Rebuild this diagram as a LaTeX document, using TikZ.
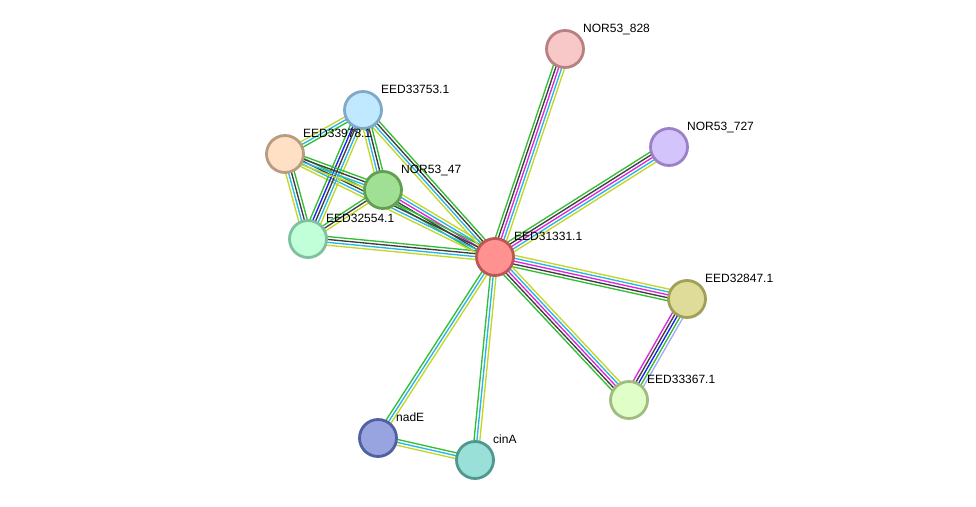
\documentclass[tikz,border=0pt]{standalone}
\usepackage{fontspec}
\setmainfont{Liberation Sans}
\usepackage{xcolor}
\usepackage{tikz}
\usetikzlibrary{calc,backgrounds}

\definecolor{tmine}{RGB}{196,214,40}
\definecolor{dbase}{RGB}{40,182,228}
\definecolor{exper}{RGB}{220,40,220}
\definecolor{coexp}{RGB}{62,62,62}
\definecolor{nbhd}{RGB}{52,190,52}
\definecolor{cooc}{RGB}{30,30,240}
\definecolor{homol}{RGB}{168,168,250}

\newcommand{\ppiedge}[3]{%
  \foreach \c [count=\i] in {#3} {\xdef\nlines{\i}}%
  \foreach \c [count=\i] in {#3} {%
    \pgfmathsetmacro{\off}{(\i-(\nlines+1)/2)*2.9}%
    \draw[ppi,\c] ($(#1.center)!\off pt!90:(#2.center)$) -- ($(#2.center)!\off pt!-90:(#1.center)$);
  }%
}

\begin{document}
\begin{tikzpicture}[x=1pt,y=-1pt,
    prot/.style={circle,minimum size=37pt,inner sep=0pt,line width=2.8pt},
    lbl/.style={anchor=base west,inner sep=0pt,font=\fontsize{12}{14}\selectfont},
    ppi/.style={line width=1.35pt}]
    \useasboundingbox (0,0) rectangle (976,506);
    \node[prot,fill={rgb,255:red,255;green,145;blue,145},draw={rgb,255:red,190;green,85;blue,85}] (c31331) at (495,257) {};
    \node[prot,fill={rgb,255:red,248;green,200;blue,200},draw={rgb,255:red,184;green,128;blue,128}] (n828) at (565,49) {};
    \node[prot,fill={rgb,255:red,212;green,196;blue,252},draw={rgb,255:red,156;green,128;blue,200}] (n727) at (669,147) {};
    \node[prot,fill={rgb,255:red,222;green,220;blue,152},draw={rgb,255:red,160;green,160;blue,88}] (e32847) at (687,299) {};
    \node[prot,fill={rgb,255:red,224;green,255;blue,200},draw={rgb,255:red,160;green,188;blue,128}] (e33367) at (629,400) {};
    \node[prot,fill={rgb,255:red,152;green,224;blue,216},draw={rgb,255:red,80;green,152;blue,143}] (cina) at (475,460) {};
    \node[prot,fill={rgb,255:red,152;green,164;blue,224},draw={rgb,255:red,80;green,96;blue,160}] (nade) at (378,438) {};
    \node[prot,fill={rgb,255:red,192;green,255;blue,216},draw={rgb,255:red,128;green,192;blue,160}] (e32554) at (308,239) {};
    \node[prot,fill={rgb,255:red,255;green,224;blue,196},draw={rgb,255:red,184;green,156;blue,128}] (e33978) at (285,154) {};
    \node[prot,fill={rgb,255:red,192;green,232;blue,255},draw={rgb,255:red,128;green,168;blue,200}] (e33753) at (363,110) {};
    \node[prot,fill={rgb,255:red,160;green,224;blue,148},draw={rgb,255:red,96;green,160;blue,80}] (n47) at (383,190) {};

    \node[lbl] (t31331) at ([shift={(19,-17)}]c31331.center) {EED31331.1};
    \node[lbl] (t828) at ([shift={(18,-17)}]n828.center) {NOR53\_828};
    \node[lbl] (t727) at ([shift={(18,-17)}]n727.center) {NOR53\_727};
    \node[lbl] (t32847) at ([shift={(18,-17)}]e32847.center) {EED32847.1};
    \node[lbl] (t33367) at ([shift={(18,-17)}]e33367.center) {EED33367.1};
    \node[lbl] (tcina) at ([shift={(18,-17)}]cina.center) {cinA};
    \node[lbl] (tnade) at ([shift={(18,-17)}]nade.center) {nadE};
    \node[lbl] (t32554) at ([shift={(18,-17)}]e32554.center) {EED32554.1};
    \node[lbl] (t33978) at ([shift={(18,-17)}]e33978.center) {EED33978.1};
    \node[lbl] (t33753) at ([shift={(18,-17)}]e33753.center) {EED33753.1};
    \node[lbl] (t47) at ([shift={(18,-17)}]n47.center) {NOR53\_47};

    \begin{pgfonlayer}{background}
        \ppiedge{c31331}{n828}{tmine,dbase,exper,coexp,nbhd}
        \ppiedge{c31331}{n727}{tmine,dbase,exper,coexp,nbhd}
        \ppiedge{c31331}{e32847}{nbhd,coexp,exper,dbase,tmine}
        \ppiedge{c31331}{e33367}{nbhd,coexp,exper,dbase,tmine}
        \ppiedge{e32847}{e33367}{exper,coexp,cooc,nbhd,homol}
        \ppiedge{c31331}{cina}{nbhd,dbase,tmine}
        \ppiedge{c31331}{nade}{nbhd,dbase,tmine}
        \ppiedge{nade}{cina}{tmine,dbase,nbhd}
        \ppiedge{e32554}{c31331}{tmine,dbase,coexp,nbhd}
        \ppiedge{n47}{c31331}{nbhd,coexp,exper,dbase,tmine}
        \ppiedge{e33978}{c31331}{tmine,dbase,coexp,nbhd}
        \ppiedge{e33753}{c31331}{tmine,dbase,coexp,nbhd}
        \ppiedge{e33753}{n47}{tmine,dbase,coexp,nbhd}
        \ppiedge{e33753}{e32554}{nbhd,cooc,coexp,dbase,tmine}
        \ppiedge{e33753}{e33978}{tmine,dbase,nbhd}
        \ppiedge{e33978}{e32554}{tmine,dbase,coexp,nbhd}
        \ppiedge{e33978}{n47}{tmine,dbase,coexp,nbhd}
        \ppiedge{e32554}{n47}{tmine,coexp,nbhd}
    \end{pgfonlayer}
\end{tikzpicture}
\end{document}
